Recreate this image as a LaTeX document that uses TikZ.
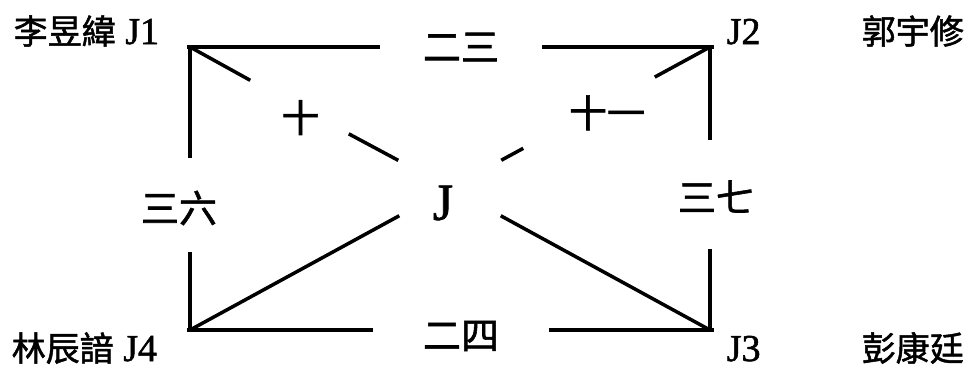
\documentclass[tikz,border=0pt]{standalone}
\usepackage{fontspec}
\setmainfont{Liberation Serif}
\newfontfamily\cjk[FakeBold=1.5]{Noto Sans CJK TC}
\newfontfamily\jfont[FakeBold=1.5]{Liberation Serif}
\usetikzlibrary{positioning, calc}

\begin{document}
\begin{tikzpicture}[x=1pt, y=-1pt, line width=3.5pt,
    gap/.style={inner sep=0pt, minimum width=#1},
    lbl/.style={inner sep=0pt, font=\cjk\fontsize{38}{40}\selectfont},
    pname/.style={inner sep=0pt, anchor=base west, font=\jfont\fontsize{38}{40}\selectfont}]
    \useasboundingbox (0,0) rectangle (973,370);

    % Corners of the table
    \coordinate (p1) at (190,47);
    \coordinate (p2) at (710,47);
    \coordinate (p3) at (710,330);
    \coordinate (p4) at (190,330);

    % Gaps that carry the labels
    \node[gap=159pt, minimum height=20pt, label={[lbl]center:二三}] (g23) at (461,47) {};
    \node[gap=172pt, minimum height=20pt, label={[lbl, yshift=-6pt]center:二四}] (g24) at (461,330) {};
    \node[gap=10pt, minimum height=90pt, label={[lbl, xshift=-11pt, yshift=-3pt]center:三六}] (g36) at (190,205) {};
    \node[gap=10pt, minimum height=105pt, label={[lbl, xshift=6pt, yshift=-2pt]center:三七}] (g37) at (710,194.5) {};
    \node[gap=95pt, minimum height=55pt, label={[lbl, xshift=1pt, yshift=-10pt]center:十}] (g10) at (299.5,107.5) {};
    \node[gap=128pt, minimum height=72pt, label={[lbl, xshift=18pt]center:十一}] (g11) at (589,112.8) {};
    \node[gap=100pt, minimum height=52pt,
      label={[inner sep=0pt, font=\jfont\fontsize{52}{56}\selectfont, xshift=-7pt, yshift=-15pt]center:J}] (gJ) at (450,188) {};

    % Frame
    \draw (p1) -- (g23) -- (p2);
    \draw (p4) -- (g24) -- (p3);
    \draw (p1) -- (g36) -- (p4);
    \draw (p2) -- (g37) -- (p3);
    \draw[line cap=rect] (p1) -- +(-1.75,0);
    \draw[line cap=rect] (p2) -- +(1.75,0);
    \draw[line cap=rect] (p3) -- +(1.75,0);
    \draw[line cap=rect] (p4) -- +(-1.75,0);

    % Diagonals
    \draw (p1) -- (g10) -- (gJ);
    \draw (p2) -- (g11) -- (gJ);
    \draw (p4) -- (gJ);
    \draw (p3) -- (gJ);

    % Names
    \node[pname] (n1) at (12,44) {{\cjk\fontsize{34}{40}\selectfont 李昱緯} J1};
    \node[pname] (n2) at (725,44) {J2};
    \node[pname, font=\cjk\fontsize{34}{40}\selectfont] (m2) at (860,44) {郭宇修};
    \node[pname] (n4) at (10,361) {{\cjk\fontsize{34}{40}\selectfont 林辰諳} J4};
    \node[pname] (n3) at (725,361) {J3};
    \node[pname, font=\cjk\fontsize{34}{40}\selectfont] (m3) at (860,361) {彭康廷};
\end{tikzpicture}
\end{document}
